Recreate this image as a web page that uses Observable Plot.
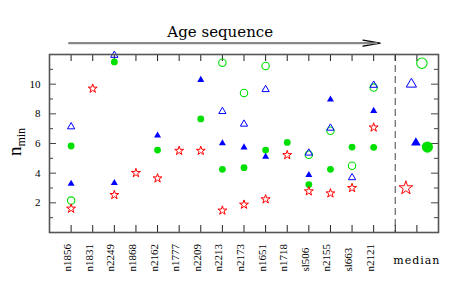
<!DOCTYPE html>
<html>
<head>
<meta charset="utf-8">
<script src="https://cdn.jsdelivr.net/npm/d3@7"></script>
<script src="https://cdn.jsdelivr.net/npm/@observablehq/plot@0.6"></script>
<style>
  body { margin: 0; background: #fff; }
</style>
</head>
<body>
<div id="chart"></div>
<script>
// ---- data ----
const categories = ["n1856","n1831","n2249","n1868","n2162","n1777","n2209","n2213","n2173","n1651","n1718","sl506","n2155","sl663","n2121"];
const filledTriangle = [3.29, null, 3.34, null, 6.54, null, 10.29, 6.01, 5.74, 5.11, null, 3.88, 8.96, null, 8.20];
const openTriangle   = [7.13, null, 11.95, null, null, null, null, 8.16, 7.31, 9.64, null, 5.36, 7.04, 3.70, 9.93];
const filledCircle   = [5.83, null, 11.50, null, 5.56, null, 7.66, 4.26, 4.37, 5.56, 6.07, 3.23, 4.26, 5.76, 5.74];
const openCircle     = [2.15, null, null, null, null, null, null, 11.45, 9.41, 11.23, null, 5.24, 6.86, 4.50, 9.77];
const openStar       = [1.61, 9.70, 2.53, 4.01, 3.65, 5.51, 5.51, 1.48, 1.88, 2.24, 5.22, 2.78, 2.64, 3.00, 7.08];

const medianLabel = "median";
const medianFilledTriangle = 6.05;
const medianOpenTriangle = 10.0;
const medianFilledCircle = 5.76;
const medianOpenCircle = 11.41;
const medianOpenStar = 3.00;

const yTickLabels = [2, 4, 6, 8, 10];
const yMajorTicks = [2, 4, 6, 8, 10];
const yMinorTicks = [1, 3, 5, 7, 9, 11];
const titleText = "Age sequence";

// ---- layout ----
const W = 463, H = 290, mL = 49, mR = 25, mT = 54, mB = 58;
const xDomain = [-1, categories.length + 2];
const yDomain = [0, 12];
const pxX = (W - mL - mR) / (xDomain[1] - xDomain[0]);
const pxY = (H - mT - mB) / (yDomain[1] - yDomain[0]);
const medianPos = categories.length + 1;
const xTicks = d3.range(0, medianPos + 1);

const GREEN = "#00e000", BLUE = "#0000ff", RED = "#ff0000";

const rows = arr => arr.map((v, i) => ({i, v})).filter(d => d.v != null);

// tick lengths in data units
const xt = 7 / pxY, ytMaj = 7 / pxX, ytMin = 4 / pxX;

const arrowY = yDomain[1] + (mT - 42.7) / pxY;
const arrowRow = [{x1: -0.1, x2: 14.3, y: arrowY}];

const plot = Plot.plot({
  width: W, height: H,
  marginLeft: mL, marginRight: mR, marginTop: mT, marginBottom: mB,
  x: {type: "linear", domain: xDomain, axis: null},
  y: {type: "linear", domain: yDomain, axis: null},
  style: {fontFamily: "Liberation Serif", fontSize: "11px", background: "#fff", color: "#000"},
  marks: [
    // dashed separator
    Plot.ruleX([categories.length], {stroke: "#707070", strokeWidth: 1.3, strokeDasharray: "7,4"}),
    // x ticks bottom / top
    Plot.ruleX(xTicks, {x: d => d, y1: yDomain[0], y2: yDomain[0] + xt, stroke: "#222", strokeWidth: 1}),
    Plot.ruleX(xTicks, {x: d => d, y1: yDomain[1], y2: yDomain[1] - xt, stroke: "#222", strokeWidth: 1}),
    // y ticks left / right
    Plot.ruleY(yMajorTicks, {y: d => d, x1: xDomain[0], x2: xDomain[0] + ytMaj, stroke: "#444"}),
    Plot.ruleY(yMinorTicks, {y: d => d, x1: xDomain[0], x2: xDomain[0] + ytMin, stroke: "#444"}),
    Plot.ruleY(yMajorTicks, {y: d => d, x1: xDomain[1], x2: xDomain[1] - ytMaj, stroke: "#444"}),
    Plot.ruleY(yMinorTicks, {y: d => d, x1: xDomain[1], x2: xDomain[1] - ytMin, stroke: "#444"}),

    // per-cluster points
    Plot.dot(rows(openCircle), {x: "i", y: "v", r: 3.7, stroke: GREEN, fill: "none", strokeWidth: 1.1}),
    Plot.dot(rows(filledCircle), {x: "i", y: "v", r: 3.4, fill: GREEN}),
    Plot.dot(rows(openTriangle), {x: "i", y: "v", symbol: "triangle", r: 2.7, stroke: BLUE, fill: "none", strokeWidth: 1}),
    Plot.dot(rows(filledTriangle), {x: "i", y: "v", symbol: "triangle", r: 2.6, fill: BLUE}),
    Plot.dot(rows(openStar), {x: "i", y: "v", symbol: "star", r: 2.8, stroke: RED, fill: "none", strokeWidth: 1}),

    // medians (larger, slightly offset horizontally)
    Plot.dot([medianOpenCircle], {x: medianPos, y: d => d, r: 5.2, dx: 5, stroke: GREEN, fill: "none", strokeWidth: 1.1}),
    Plot.dot([medianOpenTriangle], {x: medianPos, y: d => d, symbol: "triangle", r: 3.8, dx: -5.5, stroke: BLUE, fill: "none", strokeWidth: 1}),
    Plot.dot([medianFilledTriangle], {x: medianPos, y: d => d, symbol: "triangle", r: 3.6, dx: -1, fill: BLUE}),
    Plot.dot([medianFilledCircle], {x: medianPos, y: d => d, r: 5.6, dx: 10.5, fill: GREEN}),
    Plot.dot([medianOpenStar], {x: medianPos, y: d => d, symbol: "star", r: 4.3, dx: -11, stroke: RED, fill: "none", strokeWidth: 1}),

    Plot.frame({stroke: "#555", strokeWidth: 1.6}),

    // y tick labels
    Plot.text(yTickLabels, {y: d => d, frameAnchor: "left", dx: -9, textAnchor: "end", fontSize: 11}),
    // x tick labels (rotated)
    Plot.text(categories, {x: (d, i) => i, frameAnchor: "bottom", dy: 39, rotate: -90, textAnchor: "start", fontSize: 11}),
    Plot.text([medianLabel], {x: medianPos, frameAnchor: "bottom", dy: 31, fontSize: 11, fontFamily: "DejaVu Serif"}),

    // title + arrow
    Plot.text([titleText], {x: 6.9, frameAnchor: "top", dy: -28, fontSize: 15, fontFamily: "DejaVu Serif"}),
    Plot.arrow(arrowRow, {x1: "x1", x2: "x2", y1: "y", y2: "y", stroke: "#000", strokeWidth: 1.3, headAngle: 20, headLength: 20}),
    Plot.link(arrowRow, {x1: "x1", x2: d => d.x2 - 0.12, y1: "y", y2: "y", stroke: "#8a8a8a", strokeWidth: 2})
  ]
});

const svg = d3.select(plot);
svg.selectAll("text").filter(function() { return this.textContent === medianLabel; }).attr("letter-spacing", "1px");
const yl = svg.append("text")
  .attr("transform", "translate(21,142) rotate(-90)")
  .attr("text-anchor", "middle")
  .attr("font-family", "Liberation Serif")
  .attr("fill", "#000");
yl.append("tspan").attr("font-size", 19).text("n");
yl.append("tspan").attr("font-size", 12).attr("dy", "0.3em").text("min");

document.getElementById("chart").appendChild(plot);
</script>
</body>
</html>
